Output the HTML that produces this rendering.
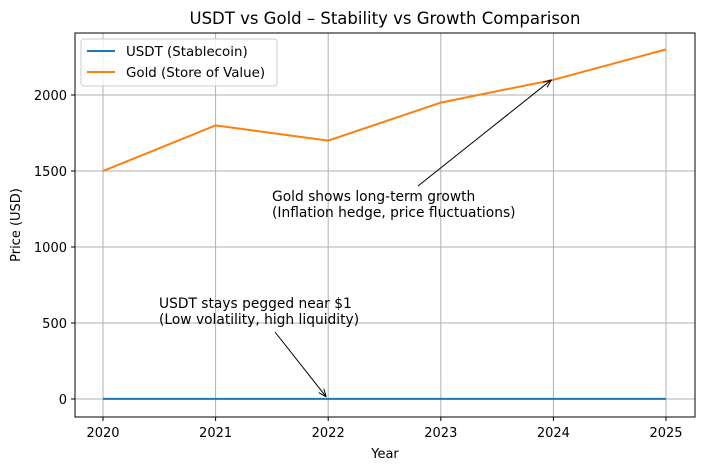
<!DOCTYPE html>
<html><head><meta charset="utf-8"><style>
body{margin:0;background:#fff;}
svg text{font-family:"DejaVu Sans","Liberation Sans",sans-serif;}
</style></head><body>
<svg id="chart" width="704" height="470" xmlns="http://www.w3.org/2000/svg">
<defs><marker id="ah" viewBox="0 0 10 10" refX="10" refY="5" markerWidth="8" markerHeight="8" orient="auto-start-reverse"><path d="M0,1 L10,5 L0,9" fill="none" stroke="#000" stroke-width="1.2"/></marker></defs>
<g id="grid"></g>
<g id="series"></g>
<rect x="75" y="33" width="620" height="384" fill="none" stroke="#000" stroke-width="1"/>
<g id="axes"></g>
<text x="385" y="24" text-anchor="middle" font-size="16.5">USDT vs Gold – Stability vs Growth Comparison</text>
<text x="385" y="458" text-anchor="middle" font-size="13">Year</text>
<text x="20" y="225" text-anchor="middle" font-size="13" transform="rotate(-90 20 225)">Price (USD)</text>
<g>
<line id="goldArrow" x1="418" y1="186" stroke="#000" stroke-width="1" marker-end="url(#ah)"/>
<text x="272" y="201" font-size="13.8">Gold shows long-term growth</text>
<text x="272" y="217" font-size="13.8">(Inflation hedge, price fluctuations)</text>
</g>
<g>
<line id="usdtArrow" x1="275" y1="332" stroke="#000" stroke-width="1" marker-end="url(#ah)"/>
<text x="159" y="308" font-size="13.8">USDT stays pegged near $1</text>
<text x="159" y="324" font-size="13.8">(Low volatility, high liquidity)</text>
</g>
<g>
<rect x="81" y="39" width="196" height="47" rx="3" fill="#fff" fill-opacity="0.8" stroke="#ccc"/>
<line x1="87" y1="51" x2="115" y2="51" stroke="#1f77b4" stroke-width="2"/>
<text x="126" y="56" font-size="13.4">USDT (Stablecoin)</text>
<line x1="87" y1="72" x2="115" y2="72" stroke="#ff7f0e" stroke-width="2"/>
<text x="126" y="77" font-size="13.4">Gold (Store of Value)</text>
</g>
</svg>
<script>
const years=[2020,2021,2022,2023,2024,2025];
const usdt=[1,1,1,1,1,1];
const gold=[1500,1800,1700,1950,2100,2300];
const yTicks=[0,500,1000,1500,2000];
const NS="http://www.w3.org/2000/svg";
const X=v=>103+(v-2020)*112.6;
const Y=v=>399-v*0.152;
const grid=document.getElementById('grid'),axes=document.getElementById('axes'),ser=document.getElementById('series');
function mk(t,a,p){const e=document.createElementNS(NS,t);for(const k in a)e.setAttribute(k,a[k]);p.appendChild(e);return e;}
years.forEach(y=>{
 const g=mk('line',{x1:X(y),x2:X(y),y1:33,y2:417,stroke:'#b0b0b0','stroke-width':1},grid);
 
 
 mk('line',{x1:X(y),x2:X(y),y1:417,y2:421,stroke:'#000'},axes);
 const t=mk('text',{x:X(y),y:437,'text-anchor':'middle','font-size':13},axes);t.textContent=y;
 
 
});
yTicks.forEach(v=>{
 const g=mk('line',{x1:75,x2:695,y1:Y(v),y2:Y(v),stroke:'#b0b0b0','stroke-width':1},grid);
 
 
 mk('line',{x1:71,x2:75,y1:Y(v),y2:Y(v),stroke:'#000'},axes);
 const t=mk('text',{x:67,y:Y(v)+5,'text-anchor':'end','font-size':13},axes);t.textContent=v;
 
 
});
const l1=mk('polyline',{points:years.map((y,i)=>X(y)+','+Y(usdt[i])).join(' '),fill:'none',stroke:'#1f77b4','stroke-width':2},ser);


const l2=mk('polyline',{points:years.map((y,i)=>X(y)+','+Y(gold[i])).join(' '),fill:'none',stroke:'#ff7f0e','stroke-width':2},ser);


const ga=document.getElementById('goldArrow');ga.setAttribute('x2',X(2024)-2);ga.setAttribute('y2',Y(gold[4]));
const ua=document.getElementById('usdtArrow');ua.setAttribute('x2',X(2022)-2);ua.setAttribute('y2',Y(usdt[2])-2);
</script>
</body></html>
